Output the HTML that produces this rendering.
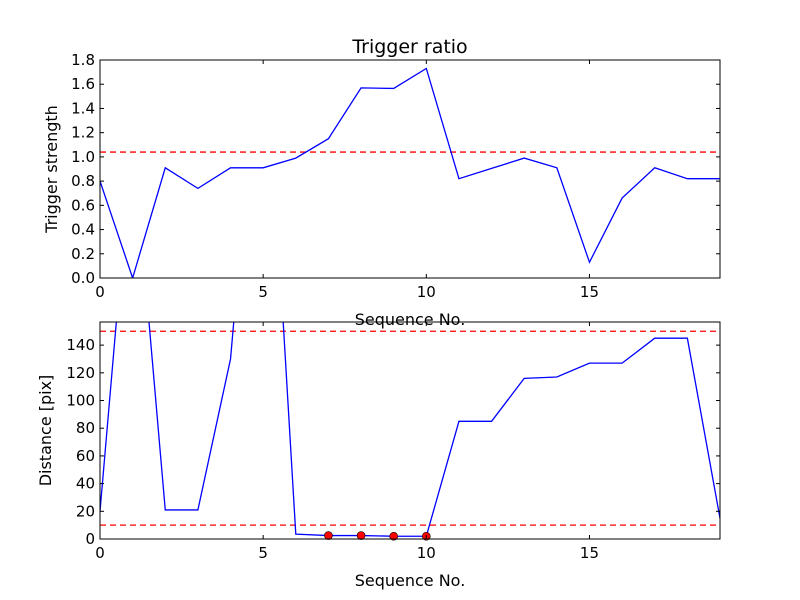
<!DOCTYPE html>
<html><head><meta charset="utf-8"><style>body{margin:0;background:#fff}svg{display:block}text{font-family:"DejaVu Sans","Liberation Sans",sans-serif;fill:#000}</style></head>
<body>
<svg id="c" width="800" height="600"></svg>
<script>
const xs = [0,1,2,3,4,5,6,7,8,9,10,11,12,13,14,15,16,17,18,19];
const strength = [0.8,0.0,0.91,0.74,0.91,0.91,0.99,1.15,1.57,1.565,1.73,0.82,0.905,0.99,0.91,0.13,0.66,0.91,0.82,0.82];
const strengthThreshold = [1.04];
const distance = [20,293,21,21,130,400,3.5,2.5,2.5,2,2,85,85,116,117,127,127,145,145,15];
const distThresholds = [10,150];
const markerIdx = [7,8,9,10];
const xTicks = [0,5,10,15];
const yTicksTop = [0,0.2,0.4,0.6,0.8,1.0,1.2,1.4,1.6,1.8];
const yTicksBot = [0,20,40,60,80,100,120,140];

const NS="http://www.w3.org/2000/svg";
const svg=document.getElementById('c');
function mk(t,a,p){const e=document.createElementNS(NS,t);for(const k in a)e.setAttribute(k,a[k]);(p||svg).appendChild(e);return e;}

function panel(id,top,bot,ymax,ys,yt,fmt,thr,title,ylab,markers){
  const L=100,R=720;
  const sx=v=>L+(v-0)/(19-0)*(R-L);
  const sy=v=>bot-(v/ymax)*(bot-top);
  const g=mk('g',{});
  
  
  const cp=mk('clipPath',{id:'cp'+id},g);mk('rect',{x:L,y:top,width:R-L,height:bot-top},cp);
  thr.forEach(t=>{const l=mk('line',{x1:L,x2:R,y1:sy(t),y2:sy(t),stroke:'#f00','stroke-width':1.3,'stroke-dasharray':'6,4','clip-path':'url(#cp'+id+')'},g);
    });
  const pl=mk('polyline',{points:xs.map((x,i)=>sx(x)+','+sy(ys[i])).join(' '),fill:'none',stroke:'#00f','stroke-width':1.3,'clip-path':'url(#cp'+id+')'},g);
  
  (markers||[]).forEach(i=>{const c=mk('circle',{cx:sx(xs[i]),cy:sy(ys[i]),r:4,fill:'#f00',stroke:'#000','stroke-width':0.6},g);
    });
  mk('rect',{x:L,y:top,width:R-L,height:bot-top,fill:'none',stroke:'#000','stroke-width':1},g);
  xTicks.forEach(t=>{const x=sx(t);mk('line',{x1:x,x2:x,y1:bot,y2:bot-4,stroke:'#000'},g);mk('line',{x1:x,x2:x,y1:top,y2:top+4,stroke:'#000'},g);
    const tx=mk('text',{x:x,y:bot+19,'text-anchor':'middle','font-size':15},g);tx.textContent=t;
    });
  yt.forEach(t=>{const y=sy(t);mk('line',{x1:L,x2:L+4,y1:y,y2:y,stroke:'#000'},g);mk('line',{x1:R,x2:R-4,y1:y,y2:y,stroke:'#000'},g);
    const tx=mk('text',{x:L-5,y:y+5,'text-anchor':'end','font-size':15},g);tx.textContent=fmt(t);
    });
  const xl=mk('text',{x:410,y:bot+47,'text-anchor':'middle','font-size':16},g);xl.textContent='Sequence No.';
  
  const yl=mk('text',{x:0,y:0,'text-anchor':'middle','font-size':16,transform:`translate(${id==='top'?57:51},${(top+bot)/2}) rotate(-90)`},g);yl.textContent=ylab;
  
  if(title){const tt=mk('text',{x:410,y:top-7,'text-anchor':'middle','font-size':19},g);tt.textContent=title;
    }
}
panel('top',60,278,1.8,strength,yTicksTop,t=>t.toFixed(1),strengthThreshold,'Trigger ratio','Trigger strength');
panel('bottom',322,539,156.7,distance,yTicksBot,t=>String(t),distThresholds,null,'Distance [pix]',markerIdx);
</script>
</body></html>
